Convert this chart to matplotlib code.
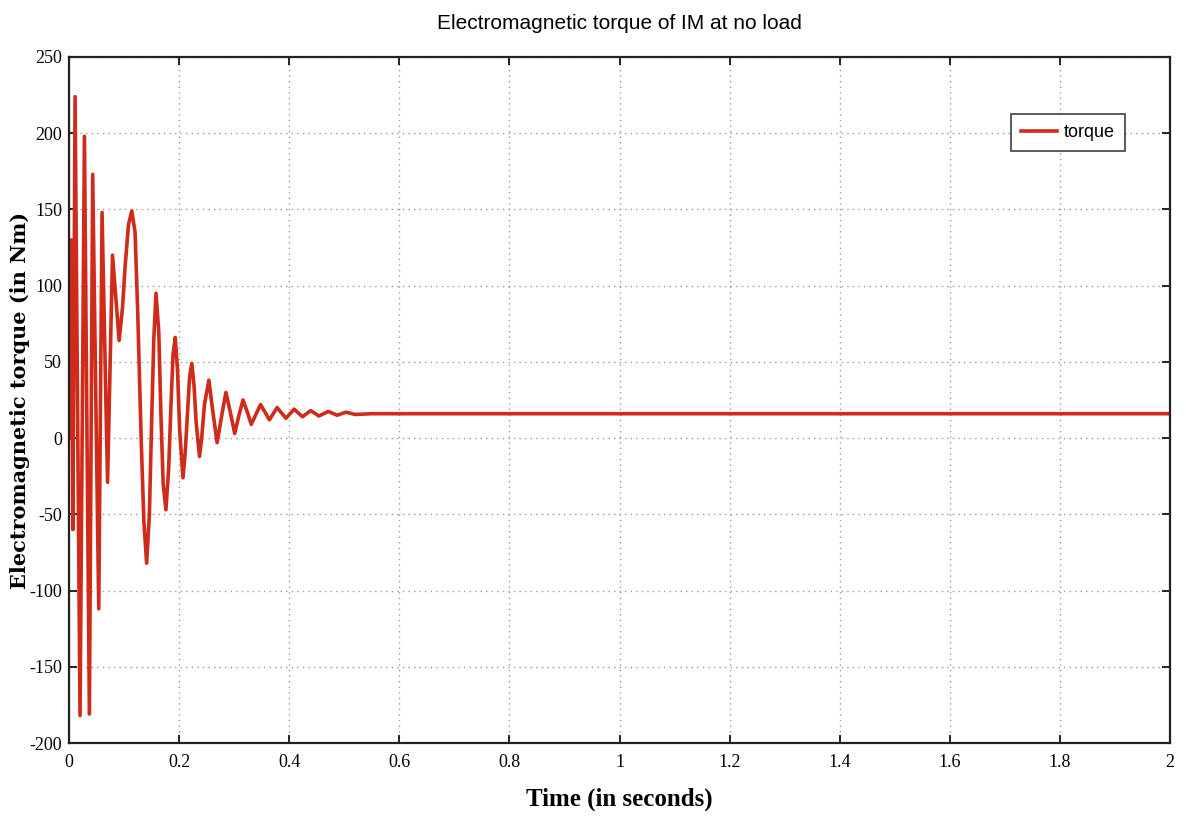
import matplotlib
matplotlib.use('Agg')
from matplotlib import pyplot as plt

# torque trace (time in s, torque in Nm)
time_s = [0.000, 0.004, 0.007, 0.011, 0.020, 0.028, 0.037, 0.043, 0.054,
          0.060, 0.070, 0.079, 0.091, 0.097, 0.102, 0.108, 0.114, 0.120,
          0.125, 0.131, 0.136, 0.141, 0.146, 0.150, 0.154, 0.158, 0.163,
          0.167, 0.171, 0.176, 0.181, 0.185, 0.189, 0.193, 0.197, 0.201,
          0.207, 0.211, 0.215, 0.219, 0.223, 0.227, 0.231, 0.237, 0.241,
          0.246, 0.254, 0.261, 0.269, 0.277, 0.285, 0.293, 0.301, 0.308,
          0.316, 0.324, 0.331, 0.340, 0.348, 0.364, 0.378, 0.394, 0.409,
          0.424, 0.439, 0.454, 0.471, 0.487, 0.503, 0.520, 0.550, 2.000]
torque = [0, 130, -60, 224, -182, 198, -181, 173, -112,
          148, -29, 120, 64, 85, 113, 140, 149, 135,
          80, 0, -55, -82, -50, 10, 65, 95, 70,
          15, -30, -47, -20, 20, 55, 66, 45, 5,
          -26, -10, 15, 40, 49, 35, 10, -12, 0,
          22, 38, 18, -3, 14, 30, 17, 3, 14,
          25, 17, 9, 16, 22, 12, 20, 13, 19,
          14, 18, 14.5, 17.5, 15, 17, 15.5, 16, 16]

x_ticks = [0, 0.2, 0.4, 0.6, 0.8, 1, 1.2, 1.4, 1.6, 1.8, 2]
x_labels = ['0', '0.2', '0.4', '0.6', '0.8', '1', '1.2', '1.4', '1.6', '1.8', '2']
y_ticks = [-200, -150, -100, -50, 0, 50, 100, 150, 200, 250]

serif = ['Liberation Serif', 'DejaVu Serif']
sans = ['Liberation Sans', 'DejaVu Sans']
plt.rcParams['axes.unicode_minus'] = False

fig = plt.figure(figsize=(11.86, 8.21), dpi=100)
ax = fig.add_axes([0.0582, 0.095, 0.9283, 0.8356])

ax.plot(time_s, torque, color='#d02a1a', lw=2.6, label='torque')

ax.set_xlim(0, 2)
ax.set_ylim(-200, 250)
ax.set_xticks(x_ticks)
ax.set_xticklabels(x_labels)
ax.set_yticks(y_ticks)
ax.grid(True, color='#9a9a9a', linestyle=(0, (1, 3)), lw=1.0)
ax.tick_params(direction='in', top=True, right=True, length=6, width=1.2,
               labelsize=13, pad=5)
ax.tick_params(axis='x', pad=8)
for lab in ax.get_xticklabels() + ax.get_yticklabels():
    lab.set_family(serif)
for s in ax.spines.values():
    s.set_linewidth(1.6)
    s.set_color('#222222')

ax.set_title('Electromagnetic torque of IM at no load', family=sans,
             fontsize=15, pad=20)
ax.set_xlabel('Time (in seconds)', family=serif, fontweight='bold',
              fontsize=18, labelpad=12)
ax.set_ylabel('Electromagnetic torque (in Nm)', family=['DejaVu Serif'],
              fontweight='bold', fontsize=15)
ax.yaxis.set_label_coords(-0.035, 0.5)

leg = ax.legend(loc='upper right', bbox_to_anchor=(0.959, 0.917),
                borderaxespad=0, fancybox=False, handlelength=2.0,
                handletextpad=0.4, borderpad=0.55,
                prop={'family': sans, 'size': 13})
leg.get_frame().set_edgecolor('#222222')
leg.get_frame().set_linewidth(1.3)

fig.savefig('out.png', dpi=100)
